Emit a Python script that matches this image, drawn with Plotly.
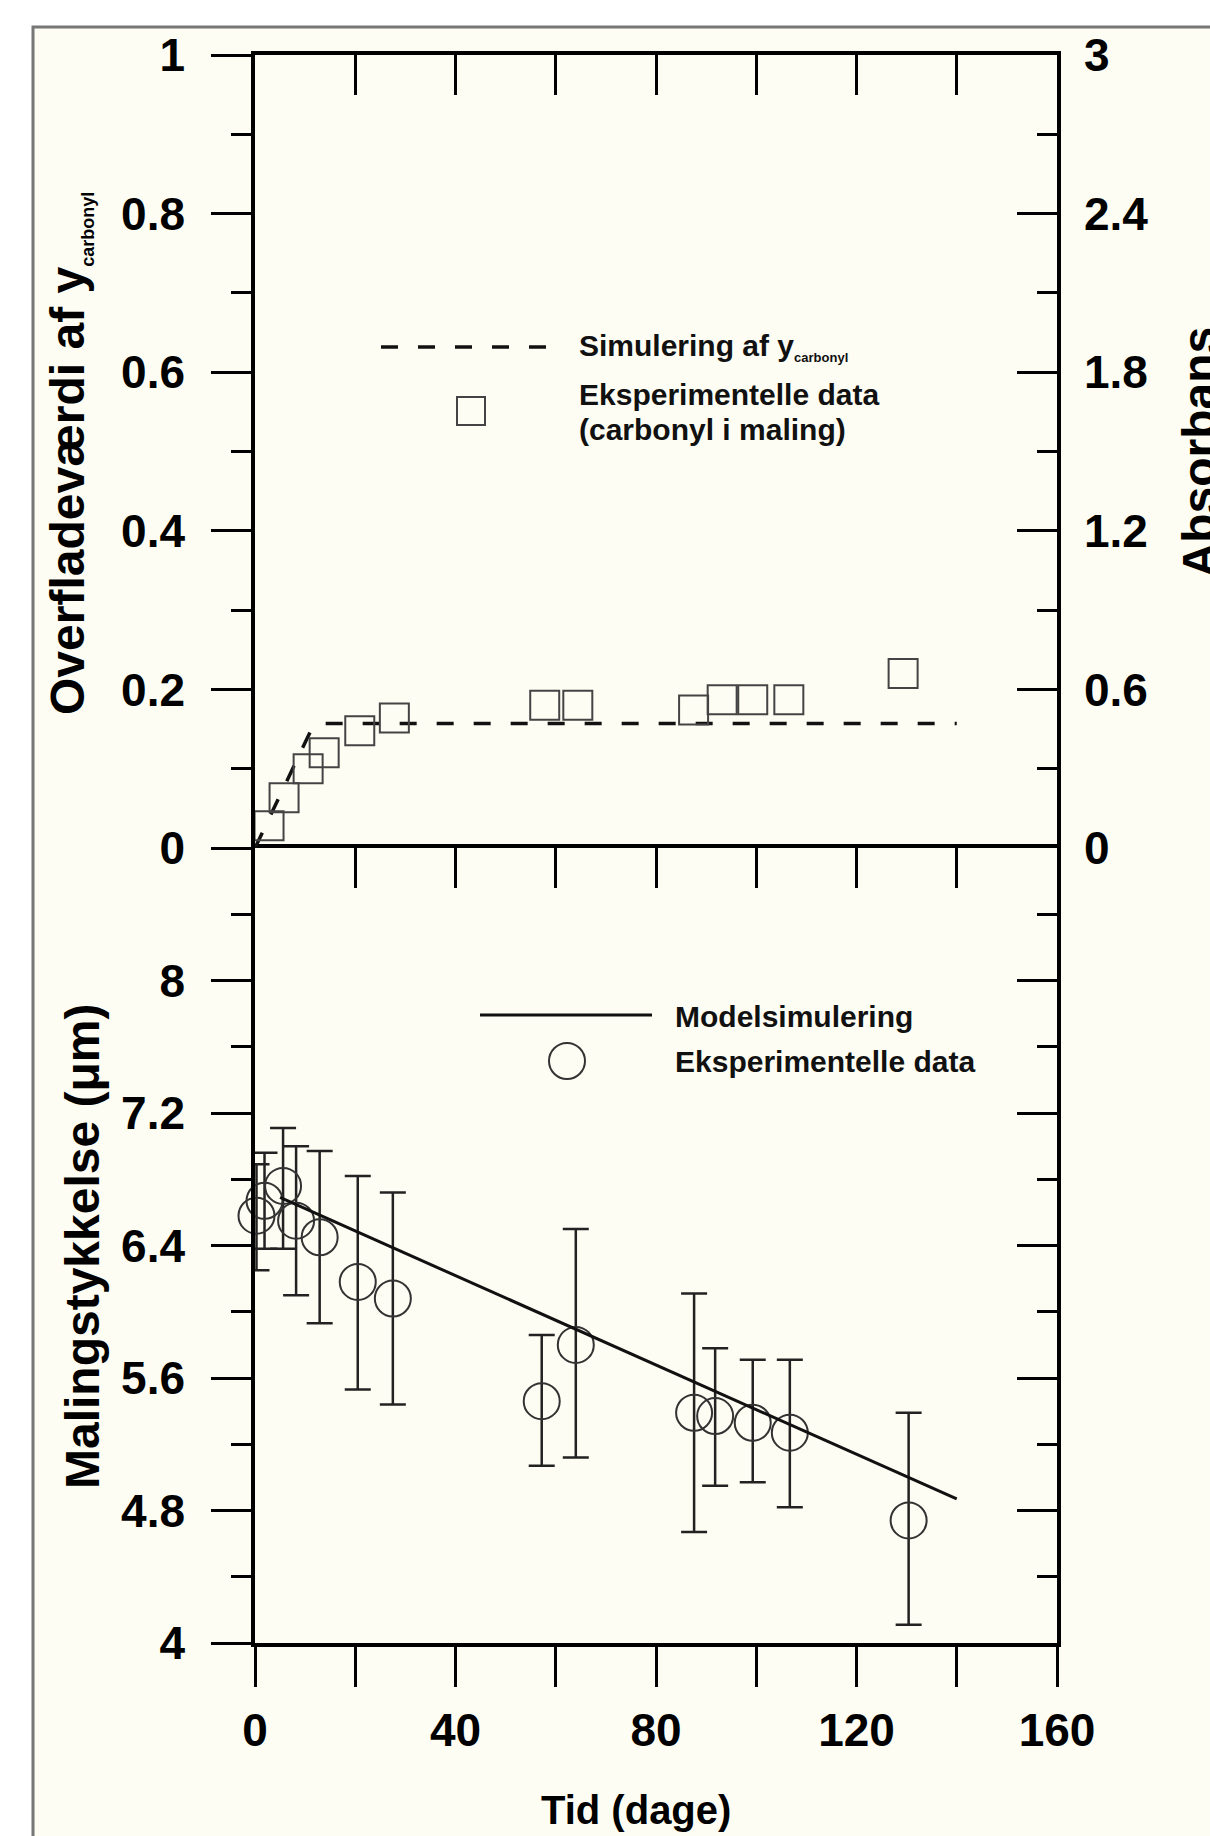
import plotly.graph_objects as go

# ---------------- data ----------------
# top panel: simulated surface value of y_carbonyl (left axis) and
# measured carbonyl absorbance in the paint (right axis, "Absorbans")
sim_days = [0, 3, 6, 9, 11.5, 13, 140]
sim_carbonyl = [0, 0.040, 0.080, 0.122, 0.153, 0.157, 0.157]
sq_days = [0, 2.8, 5.8, 10.6, 13.8, 20.9, 27.8, 57.8, 64.4, 87.5, 93.2, 99.3, 106.5, 129.3]
sq_absorbans = [-0.01, 0.084, 0.19, 0.30, 0.36, 0.444, 0.492, 0.54, 0.54, 0.522, 0.561, 0.561, 0.561, 0.66]

# bottom panel: paint thickness (um)
th_days = [0.3, 1.9, 5.6, 8.2, 12.9, 20.5, 27.5, 57.2, 64.0, 87.6, 91.8, 99.3, 106.7, 130.4]
th_um = [6.58, 6.67, 6.76, 6.55, 6.45, 6.18, 6.08, 5.46, 5.80, 5.39, 5.37, 5.33, 5.27, 4.74]
th_err_plus = [0.31, 0.29, 0.35, 0.45, 0.52, 0.64, 0.64, 0.40, 0.70, 0.72, 0.41, 0.38, 0.44, 0.65]
th_err_minus = [0.33, 0.29, 0.38, 0.45, 0.52, 0.65, 0.64, 0.39, 0.68, 0.72, 0.42, 0.36, 0.45, 0.63]
model_days = [5, 140]
model_um = [6.69, 4.87]

# ticks
x_tickvals = [0, 40, 80, 120, 160]
x_ticktext = ["0", "40", "80", "120", "160"]
x_minor = [20, 60, 100, 140]
inner_x_tickvals = [20, 40, 60, 80, 100, 120, 140]
y1_tickvals = [0, 0.2, 0.4, 0.6, 0.8, 1]
y1_ticktext = ["0", "0.2", "0.4", "0.6", "0.8", "1"]
y1_minor = [0.1, 0.3, 0.5, 0.7, 0.9]
y2_tickvals = [0, 0.6, 1.2, 1.8, 2.4, 3]
y2_ticktext = ["0", "0.6", "1.2", "1.8", "2.4", "3"]
y2_minor = [0.3, 0.9, 1.5, 2.1, 2.7]
y3_tickvals = [4, 4.8, 5.6, 6.4, 7.2, 8]
y3_ticktext = ["4", "4.8", "5.6", "6.4", "7.2", "8"]
y3_minor = [4.4, 5.2, 6.0, 6.8, 7.6, 8.4]

# ---------------- layout helpers ----------------
W, H = 1210, 1836
def px(x):
    return x / W
def py(y):
    return 1 - y / H

FONT = "Liberation Sans, Arial, sans-serif"
INK = "black"
X_LEFT, X_RIGHT = 255, 1057
Y_TOP, Y_MID, Y_BOT = 55, 848, 1643
XD = [px(X_LEFT), px(X_RIGHT)]
YD1 = [py(Y_MID), py(Y_TOP)]
YD2 = [py(Y_BOT), py(Y_MID)]

tickfont = dict(family=FONT, size=46, color=INK, weight="bold")

fig = go.Figure()

# top panel
fig.add_trace(go.Scatter(
    x=sim_days, y=sim_carbonyl, xaxis="x3", yaxis="y", mode="lines",
    line=dict(color="#111", width=3.5, dash="17px,20px"), showlegend=False,
    hoverinfo="skip"))
fig.add_trace(go.Scatter(
    x=sq_days, y=sq_absorbans, xaxis="x3", yaxis="y2", mode="markers",
    marker=dict(symbol="square-open", size=29, color="#444", line=dict(width=2, color="#444")),
    cliponaxis=False, showlegend=False))

# bottom panel
fig.add_trace(go.Scatter(
    x=model_days, y=model_um, xaxis="x2", yaxis="y4", mode="lines",
    line=dict(color="#111", width=3), showlegend=False))
fig.add_trace(go.Scatter(
    x=th_days, y=th_um, xaxis="x", yaxis="y3", mode="markers",
    marker=dict(symbol="circle-open", size=36, color="#333", line=dict(width=2, color="#333")),
    error_y=dict(type="data", symmetric=False, array=th_err_plus, arrayminus=th_err_minus,
                 thickness=2.5, width=13, color="#222"),
    cliponaxis=False, showlegend=False))

axis_common = dict(showgrid=False, zeroline=False, showline=True, linewidth=3.5,
                   linecolor=INK, tickwidth=3, tickcolor=INK, automargin=False)

fig.update_layout(
    width=W, height=H,
    margin=dict(l=0, r=0, t=0, b=0, pad=0),
    paper_bgcolor="white", plot_bgcolor="rgba(0,0,0,0)",
    font=dict(family=FONT, color=INK),
    xaxis=dict(domain=XD, range=[0, 160], anchor="y3", side="bottom",
               ticks="outside", ticklen=40, tickmode="array",
               tickvals=x_tickvals, ticktext=x_ticktext, tickfont=tickfont,
               ticklabelstandoff=4,
               minor=dict(tickmode="array", tickvals=x_minor, ticks="outside",
                          ticklen=40, tickwidth=3, tickcolor=INK, showgrid=False),
               **axis_common),
    xaxis2=dict(overlaying="x", range=[0, 160], anchor="y3", side="top",
                ticks="inside", ticklen=40, tickmode="array", tickvals=inner_x_tickvals,
                showticklabels=False, **axis_common),
    xaxis3=dict(domain=XD, range=[0, 160], anchor="y", side="top",
                ticks="inside", ticklen=40, tickmode="array", tickvals=inner_x_tickvals,
                showticklabels=False, **axis_common),
    yaxis=dict(domain=YD1, range=[0, 1], anchor="x3", side="left",
               ticks="outside", ticklen=40, tickmode="array",
               tickvals=y1_tickvals, ticktext=y1_ticktext, tickfont=tickfont,
               ticklabelstandoff=17,
               minor=dict(tickmode="array", tickvals=y1_minor, ticks="outside",
                          ticklen=20, tickwidth=3, tickcolor=INK, showgrid=False),
               **axis_common),
    yaxis2=dict(overlaying="y", range=[0, 3], anchor="x3", side="right",
                ticks="inside", ticklen=40, tickmode="array",
                tickvals=y2_tickvals, ticktext=y2_ticktext, tickfont=tickfont,
                ticklabelstandoff=14,
                minor=dict(tickmode="array", tickvals=y2_minor, ticks="inside",
                           ticklen=20, tickwidth=3, tickcolor=INK, showgrid=False),
                **axis_common),
    yaxis3=dict(domain=YD2, range=[4, 8.8], anchor="x", side="left",
                ticks="outside", ticklen=40, tickmode="array",
                tickvals=y3_tickvals, ticktext=y3_ticktext, tickfont=tickfont,
                ticklabelstandoff=17,
                minor=dict(tickmode="array", tickvals=y3_minor, ticks="outside",
                           ticklen=20, tickwidth=3, tickcolor=INK, showgrid=False),
                **axis_common),
    yaxis4=dict(overlaying="y3", range=[4, 8.8], anchor="x2", side="right",
                ticks="inside", ticklen=40, tickmode="array", tickvals=y3_tickvals,
                showticklabels=False,
                minor=dict(tickmode="array", tickvals=y3_minor, ticks="inside",
                           ticklen=20, tickwidth=3, tickcolor=INK, showgrid=False),
                **axis_common),
)

# frame / background panel
fig.add_shape(type="rect", xref="paper", yref="paper",
              x0=px(33), x1=px(1300), y0=py(1900), y1=py(27),
              fillcolor="#FDFDF3", line=dict(color="#777", width=3), layer="below")

title_font = dict(family=FONT, size=48, color=INK, weight="bold")
xtitle_font = dict(family=FONT, size=40, color=INK, weight="bold")
legend_font = dict(family=FONT, size=30, color="#111", weight="bold")

annotations = [
    dict(text="Overfladeværdi af y<sub><span style='font-size:18px'>carbonyl</span></sub>",
         x=px(70), y=py(454), textangle=-90, font=title_font),
    dict(text="Malingstykkelse (μm)", x=px(82), y=py(1246), textangle=-90, font=title_font),
    dict(text="Absorbans", x=px(1171), y=py(452), textangle=-90, font=title_font,
         xanchor="left"),
    dict(text="Tid (dage)", x=px(636), y=py(1810), font=xtitle_font),
    # legends
    dict(text="Simulering af y<sub><span style='font-size:13px'>carbonyl</span></sub>",
         x=px(577), y=py(347), xanchor="left", font=legend_font),
    dict(text="Eksperimentelle data", x=px(577), y=py(394), xanchor="left", font=legend_font),
    dict(text="(carbonyl i maling)", x=px(577), y=py(430), xanchor="left", font=legend_font),
    dict(text="Modelsimulering", x=px(673), y=py(1016), xanchor="left", font=legend_font),
    dict(text="Eksperimentelle data", x=px(673), y=py(1061), xanchor="left", font=legend_font),
]
for a in annotations:
    a.setdefault("xanchor", "center")
    a.setdefault("yanchor", "middle")
    fig.add_annotation(xref="paper", yref="paper", showarrow=False, **a)

# legend samples
fig.add_shape(type="line", xref="paper", yref="paper", x0=px(381), x1=px(552),
              y0=py(347), y1=py(347), line=dict(color="#111", width=3.5, dash="17px,20px"))
fig.add_shape(type="rect", xref="paper", yref="paper", x0=px(457), x1=px(485),
              y0=py(425), y1=py(397), line=dict(color="#444", width=2))
fig.add_shape(type="line", xref="paper", yref="paper", x0=px(480), x1=px(652),
              y0=py(1015), y1=py(1015), line=dict(color="#111", width=3))
fig.add_shape(type="circle", xref="paper", yref="paper", x0=px(549), x1=px(585),
              y0=py(1079), y1=py(1043), line=dict(color="#333", width=2))

fig.write_html(
    "out.html",
    config={"displayModeBar": False},
    post_script="document.body.style.margin='0';document.body.style.overflow='hidden';",
)
